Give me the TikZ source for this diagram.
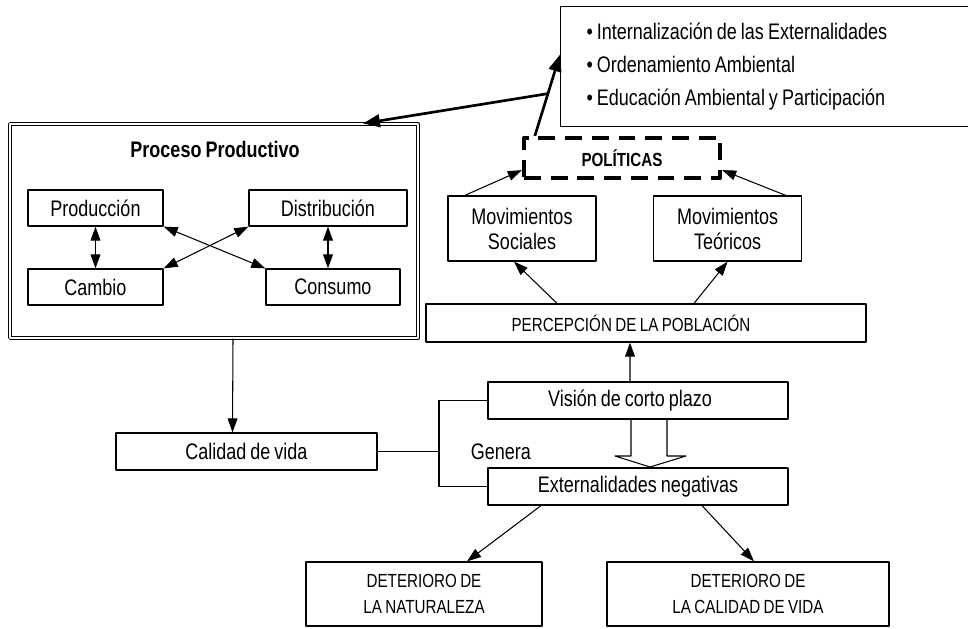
\documentclass[tikz,border=0pt]{standalone}
\usepackage{fontspec}
\setmainfont{Liberation Sans}[FakeStretch=0.8,WordSpace=0.8]
\usetikzlibrary{arrows.meta}
\begin{document}
\begin{tikzpicture}[x=0.025cm,y=-0.025cm,font=\fontsize{16}{17.8}\selectfont,
	line join=round,>={Triangle[length=10pt,width=7pt]},
	caja/.style={draw,line width=0.9pt,align=center,inner sep=0pt},
	mayus/.style={font=\fontsize{13.5}{18.5}\selectfont},
	fino/.style={->,line width=0.75pt},
	grueso/.style={->,line width=1.9pt,>={Triangle[length=12pt,width=9pt]}}]
	\useasboundingbox (0,0) rectangle (968,629);
	% politicas y lista
	\node[caja,anchor=north west,inner xsep=0.65cm,text width=9.2cm,minimum height=3cm,
	align=flush left,font=\fontsize{16}{23.5}\selectfont] (lista) at (560,6)
	{• Internalización de las Externalidades\\• Ordenamiento Ambiental\\• Educación Ambiental y Participación};
	\node[caja,line width=3pt,dash pattern=on 12pt off 7pt,minimum width=4.9cm,minimum height=1cm,
	font=\bfseries\fontsize{13.5}{14}\selectfont] (pol) at (622,158) {POLÍTICAS};
	\node[caja,minimum width=3.7cm,minimum height=1.625cm] (ms) at (522,228.5) {Movimientos\\Sociales};
	\node[caja,minimum width=3.7cm,minimum height=1.625cm] (mt) at (727.6,228.5) {Movimientos\\Teóricos};
	\node[caja,mayus,minimum width=11cm,minimum height=0.95cm] (perc) at (646,323) {PERCEPCIÓN DE LA POBLACIÓN\hspace*{0.75cm}};
	\node[caja,minimum width=7.5cm,minimum height=0.925cm] (vision) at (638,400.5) {Visión de corto plazo\hspace*{0.4cm}};
	\node[caja,minimum width=7.5cm,minimum height=0.925cm] (ext) at (638,486.5) {Externalidades negativas};
	\node[caja,mayus,minimum width=5.9cm,minimum height=1.6cm] (det1) at (424,594) {DETERIORO DE\\LA NATURALEZA};
	\node[caja,mayus,minimum width=7.05cm,minimum height=1.6cm] (det2) at (748,594) {DETERIORO DE\\LA CALIDAD DE VIDA};
	\node[caja,minimum width=6.525cm,minimum height=0.925cm] (calidad) at (246.5,451.5) {Calidad de vida};
	\node[anchor=west] (genera) at (466,452) {Genera};
	% proceso productivo
	\node[draw,double,double distance=1.2pt,line width=0.7pt,minimum width=10.2cm,minimum height=5.35cm] (proceso) at (214,231) {};
	\node[font=\bfseries\fontsize{16}{17}\selectfont] (titulo) at (215,149) {Proceso Productivo};
	\node[caja,minimum width=3.375cm,minimum height=0.9cm] (prod) at (95.5,208) {Producción};
	\node[caja,minimum width=3.95cm,minimum height=0.9cm] (dist) at (328,208) {Distribución};
	\node[caja,minimum width=3.375cm,minimum height=0.9cm] (cambio) at (95.5,287) {Cambio};
	\node[caja,minimum width=3.35cm,minimum height=0.9cm] (cons) at (333,287) {Consumo};
	\draw[fino,<->] (prod) -- (cambio);
	\draw[fino,<->] (dist.south) -- (dist.south |- cons.north);
	\draw[fino,<->] (prod.south east) -- (cons.north west);
	\draw[fino,<->] (dist.south west) -- (cambio.north east);
	\draw[fino] ([xshift=0.475cm]proceso.south) -- ([xshift=-0.35cm]calidad.north);
	% flechas
	\draw[fino] ([xshift=-0.2cm]vision.north) -- ([xshift=-0.4cm]perc.south);
	\draw[fino] ([xshift=-2.225cm]perc.north) -- ([xshift=-0.2cm]ms.south);
	\draw[fino] ([xshift=1.2cm]perc.north) -- (mt.south);
	\draw[fino] ([xshift=-1.425cm]ms.north) -- ([yshift=0.25cm]pol.south west);
	\draw[fino] ([xshift=1.45cm]mt.north) -- ([yshift=0.25cm]pol.south east);
	\draw[grueso] ([xshift=0.325cm]pol.north west) -- coordinate[pos=0.52] (rama) ([yshift=0.3cm]lista.west);
	\draw[grueso] (rama) -- ([xshift=3.725cm]proceso.north);
	\draw[fino] ([xshift=-2.425cm]ext.south) -- ([xshift=1.075cm]det1.north);
	\draw[fino] ([xshift=1.6cm]ext.south) -- ([xshift=0.15cm]det2.north);
	% genera
	\coordinate (codo) at (439,449);
	\draw[line width=0.75pt] (vision.west) -| (codo) |- (ext.west);
	\draw[line width=0.75pt] (calidad.east) -- (calidad.east -| codo);
	\draw[line width=0.75pt] (631,419)--(631,456)--(615,456)--(650,467)--(686,456)--(667,456)--(667,419);
\end{tikzpicture}
\end{document}
